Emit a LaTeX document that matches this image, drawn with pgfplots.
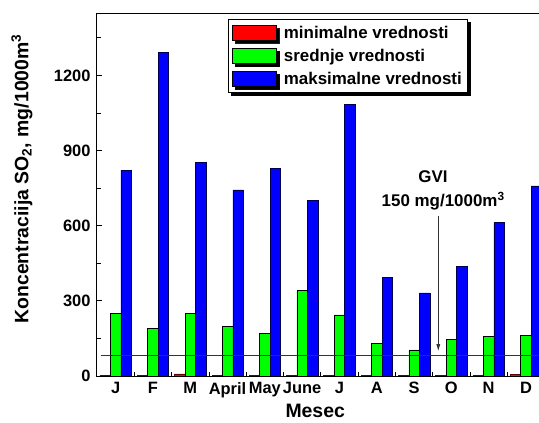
\documentclass[border=0pt]{standalone}
\usepackage{pgfplots}
\pgfplotsset{compat=1.18}
\usepackage{pgfplotstable}
\usepackage{fontspec}
\setmainfont{Liberation Sans}
\usetikzlibrary{shadows,arrows.meta}

\definecolor{minred}{RGB}{255,0,0}
\definecolor{midgreen}{RGB}{0,255,0}
\definecolor{maxblue}{RGB}{0,0,255}

% month, min, mean, max (mg/1000m3)
\pgfplotstableread{
m  minv  avg  maxv
1  3   251  822
2  1   189  1291
3  8   249  853
4  1   197  743
5  3   170  830
6  1   343  702
7  2   244  1084
8  3   130  392
9  2   104  332
10 2   145  439
11 2   158  612
12 5   162  759
}\sotable

\begin{document}
\begin{tikzpicture}
% full box; the right spine lies just past the page edge, as in the original
\begin{axis}[
    at={(0,0)}, anchor=south west,
    scale only axis,
    width=447.6bp, height=362bp,
    xmin=0.5, xmax=12.5,
    ymin=0, ymax=1445,
    ybar=0pt, bar width=10.5bp,
    xtick={1,...,12},
    xticklabels={J,F,M,April,May,June,J,A,S,O,N,D},
    minor xtick={1.5,2.5,...,11.5},
    ytick={0,300,...,1200},
    minor ytick={150,450,...,1350},
    tick align=inside,
    xtick pos=bottom, ytick pos=left,
    major tick length=5bp, minor tick length=4bp,
    axis line style={line width=1bp},
    tick style={line width=0.8bp, black},
    /pgf/number format/assume math mode=true,
    /pgf/number format/1000 sep={},
    ticklabel style={font=\fontsize{16.5}{18}\selectfont\bfseries},
    xticklabel style={yshift=-3bp},
    yticklabel style={xshift=-3bp},
    xlabel={Mesec},
    ylabel={Koncentraciija SO\textsubscript{2}, mg/1000m\textsuperscript{3}},
    label style={font=\fontsize{19.5}{21}\selectfont\bfseries},
    xlabel style={at={(axis cs:6.35,-140)}, anchor=center},
    ylabel style={at={(axis cs:-1.51,787)}, anchor=center, rotate=0},
    legend style={at={(axis cs:4.01,1425)}, anchor=north west,
        draw=black, line width=0.8bp, fill=white,
        font=\fontsize{17}{19}\selectfont\bfseries,
        inner xsep=4bp, inner ysep=5bp,
        row sep=5bp,
        /tikz/every odd column/.append style={column sep=5bp},
        drop shadow={shadow xshift=3bp, shadow yshift=-3bp, fill=black, opacity=1}},
    legend cell align=left,
    legend image code/.code={\draw[#1,draw=black,line width=0.6bp] (0bp,-7.5bp) rectangle (44bp,7.5bp);},
]
\addplot[fill=minred, draw=black!60!red, line width=0.6bp] table[x=m,y=minv] {\sotable};
\addlegendentry{minimalne vrednosti}
\addplot[fill=midgreen, draw=black, line width=0.6bp] table[x=m,y=avg] {\sotable};
\addlegendentry{srednje vrednosti}
\addplot[fill=maxblue, draw=black!70!blue, line width=0.6bp] table[x=m,y=maxv] {\sotable};
\addlegendentry{maksimalne vrednosti}

% GVI reference line and annotation
\draw[black!80, line width=1bp] (axis cs:0.6,83) -- (axis cs:12.5,83);
\draw[-{Latex[length=7bp,width=4bp]}, black!80, line width=0.8bp] (axis cs:9.65,638) -- (axis cs:9.65,99);
\node[font=\fontsize{17}{19}\selectfont\bfseries] at (axis cs:9.51,794) {GVI};
\node[font=\fontsize{17}{19}\selectfont\bfseries] at (axis cs:9.78,698) {150 mg/1000m\textsuperscript{3}};
\end{axis}
\pgfresetboundingbox
\useasboundingbox (-97bp,-47bp) rectangle (442bp,376bp);
\end{tikzpicture}
\end{document}
